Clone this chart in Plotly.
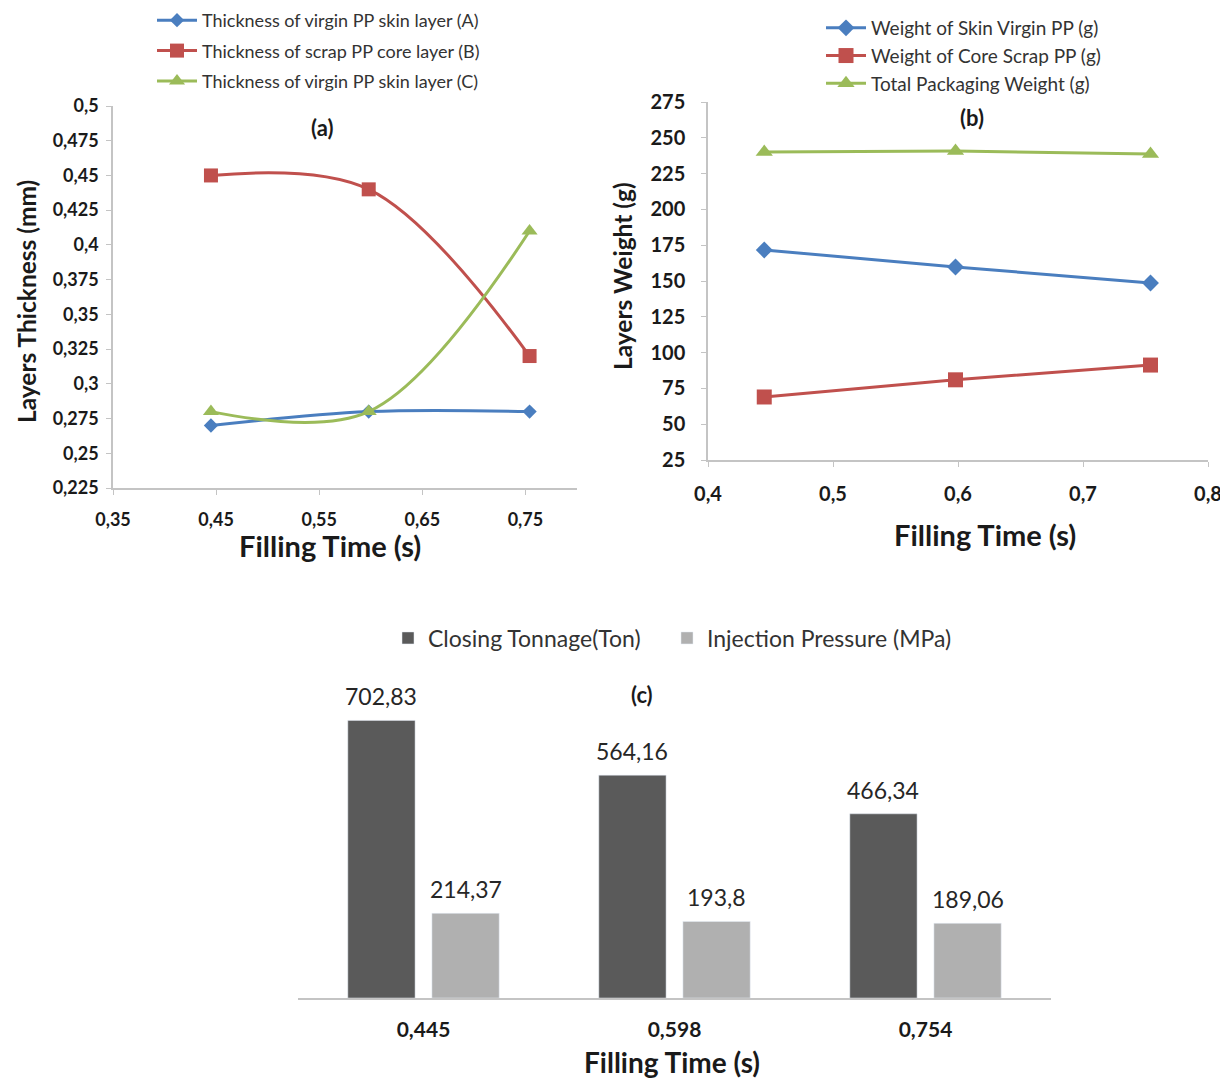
import plotly.graph_objects as go

# ---------------- data ----------------
fill_time = [0.445, 0.598, 0.754]

# (a) layer thickness (mm)
thick_skin_A = [0.27, 0.28, 0.28]
thick_core_B = [0.45, 0.44, 0.32]
thick_skin_C = [0.28, 0.28, 0.41]
names_a = ["Thickness of virgin PP skin layer (A)",
           "Thickness of scrap PP core layer (B)",
           "Thickness of virgin PP skin layer (C)"]

# (b) layer weight (g)
weight_skin = [171.7, 159.8, 148.6]
weight_core = [69.0, 81.0, 91.3]
weight_total = [240.0, 240.8, 238.7]
names_b = ["Weight of Skin Virgin PP (g)",
           "Weight of Core Scrap PP (g)",
           "Total Packaging Weight (g)"]

# (c) bar chart
categories_c = ["0,445", "0,598", "0,754"]
closing_tonnage = [702.83, 564.16, 466.34]
injection_pressure = [214.37, 193.8, 189.06]
labels_tonnage = ["702,83", "564,16", "466,34"]
labels_pressure = ["214,37", "193,8", "189,06"]
names_c = ["Closing Tonnage(Ton)", "Injection Pressure (MPa)"]

BLUE = "#4a7ebf"
RED = "#c0504d"
GREEN = "#9bbb59"
DARK = "#5a5a5a"
LIGHT = "#b0b0b0"
AXIS = "#c4c4c4"
FONT = "Lato"

# page offset (browser body margin); figure fills the rest of the window
OFF = 8
W, H = 1228 - OFF, 1080 - OFF

fig = go.Figure()

# ---------------- (a) ----------------
series_a = [(thick_skin_A, BLUE, "diamond", 11),
            (thick_core_B, RED, "square", 14),
            (thick_skin_C, GREEN, "triangle-up", 14)]
for (vals, col, sym, sz), nm in zip(series_a, names_a):
    fig.add_trace(go.Scatter(
        x=fill_time, y=vals, name=nm, mode="lines+markers",
        line=dict(color=col, width=3, shape="spline", smoothing=1),
        marker=dict(color=col, symbol=sym, size=sz),
        xaxis="x", yaxis="y", legend="legend", legendgroup=nm))

# ---------------- (b) ----------------
series_b = [(weight_skin, BLUE, "diamond", 13),
            (weight_core, RED, "square", 15),
            (weight_total, GREEN, "triangle-up", 15)]
for (vals, col, sym, sz), nm in zip(series_b, names_b):
    fig.add_trace(go.Scatter(
        x=fill_time, y=vals, name=nm, mode="lines+markers",
        line=dict(color=col, width=3),
        marker=dict(color=col, symbol=sym, size=sz),
        xaxis="x2", yaxis="y2", legend="legend2", legendgroup=nm))

# ---------------- (c) ----------------
fig.add_trace(go.Bar(
    x=categories_c, y=closing_tonnage, name=names_c[0], marker_color=DARK,
    xaxis="x3", yaxis="y3", legend="legend3"))
fig.add_trace(go.Bar(
    x=categories_c, y=injection_pressure, name=names_c[1], marker_color=LIGHT,
    xaxis="x3", yaxis="y3", legend="legend4"))

BARGAP = 0.33
BARGROUPGAP = 0.2


def px_x(p):
    return (p - OFF) / W


def px_y(p):
    return 1 - (p - OFF) / H


X3_DOMAIN = [px_x(298), px_x(1051)]

tickfont_a = dict(family=FONT, size=18, color="#1a1a1a", weight="bold")
tickfont_b = dict(family=FONT, size=20, color="#1a1a1a", weight="bold")
axis_common = dict(showgrid=False, zeroline=False, showline=True, linecolor=AXIS,
                   linewidth=1.5, ticks="outside", tickcolor=AXIS, ticklen=5,
                   ticklabeloverflow="allow")

fig.update_layout(
    width=W, height=H, margin=dict(l=0, r=0, t=0, b=0, autoexpand=False),
    paper_bgcolor="white", plot_bgcolor="white",
    separators=",.", font=dict(family=FONT, color="#262626"),
    barmode="group", bargap=BARGAP, bargroupgap=BARGROUPGAP,
    xaxis=dict(domain=[px_x(113), px_x(577)], range=[0.35, 0.80],
               tickvals=[0.35, 0.45, 0.55, 0.65, 0.75], tickfont=tickfont_a,
               ticklabelstandoff=10, anchor="y", **axis_common),
    yaxis=dict(domain=[px_y(488), px_y(106)], range=[0.225, 0.5],
               tick0=0.225, dtick=0.025, tickfont=tickfont_a, anchor="x",
               ticklabelstandoff=4, **axis_common),
    xaxis2=dict(domain=[px_x(708), px_x(1208)], range=[0.4, 0.8],
                dtick=0.1, tick0=0.4, tickfont=tickfont_b, anchor="y2",
                ticklabelstandoff=10, **axis_common),
    yaxis2=dict(domain=[px_y(460), px_y(102)], range=[25, 275],
                dtick=25, tick0=25, tickfont=tickfont_b, anchor="x2",
                ticklabelstandoff=12, **axis_common),
    xaxis3=dict(domain=X3_DOMAIN, showgrid=False, zeroline=False,
                showline=True, linecolor=AXIS, linewidth=1.5, ticks="",
                tickfont=dict(family=FONT, size=21, color="#1a1a1a", weight="bold"),
                ticklabelstandoff=12, anchor="y3"),
    yaxis3=dict(domain=[px_y(998), px_y(682)], range=[0, 800], visible=False,
                anchor="x3"),
    legend=dict(x=px_x(152), y=px_y(2), xanchor="left", yanchor="top",
                font=dict(family=FONT, size=18, color="#333333"),
                bgcolor="rgba(0,0,0,0)", tracegroupgap=4, itemwidth=40),
    legend2=dict(x=px_x(821), y=px_y(9), xanchor="left", yanchor="top",
                 font=dict(family=FONT, size=19, color="#333333"),
                 bgcolor="rgba(0,0,0,0)", tracegroupgap=0, itemwidth=40),
    legend3=dict(x=px_x(388), y=px_y(638), xanchor="left", yanchor="middle",
                 orientation="h",
                 font=dict(family=FONT, size=23, color="#333333"),
                 bgcolor="rgba(0,0,0,0)"),
    legend4=dict(x=px_x(667), y=px_y(638), xanchor="left", yanchor="middle",
                 orientation="h",
                 font=dict(family=FONT, size=23, color="#333333"),
                 bgcolor="rgba(0,0,0,0)"),
)

ann = []


def add_text(txt, x, y, size, bold=True, angle=0):
    ann.append(dict(text=txt, x=px_x(x), y=px_y(y), xref="paper", yref="paper",
                    showarrow=False, xanchor="center", yanchor="middle",
                    textangle=angle,
                    font=dict(family=FONT, size=size, color="#1a1a1a",
                              weight="bold" if bold else "normal")))


add_text("(a)", 322, 128, 22)
add_text("(b)", 972, 117, 22)
add_text("(c)", 642, 694, 22)
add_text("Filling Time (s)", 330, 545, 29)
add_text("Filling Time (s)", 985, 534, 29)
add_text("Filling Time (s)", 672, 1062, 28)
add_text("Layers Thickness (mm)", 26, 302, 24.5, angle=-90)
add_text("Layers Weight (g)", 622, 276, 24.5, angle=-90)

# value labels above bars (positioned on the bar axis, shifted to each bar slot)
n_series = 2
cat_px = (X3_DOMAIN[1] - X3_DOMAIN[0]) * W / len(categories_c)
slot_px = cat_px * (1 - BARGAP) / n_series
for s, (vals, labs) in enumerate([(closing_tonnage, labels_tonnage),
                                  (injection_pressure, labels_pressure)]):
    shift = (s - (n_series - 1) / 2) * slot_px
    for c, v, t in zip(categories_c, vals, labs):
        ann.append(dict(text=t, x=c, y=v, xref="x3", yref="y3", showarrow=False,
                        xanchor="center", yanchor="middle", xshift=shift, yshift=24,
                        font=dict(family=FONT, size=23, color="#262626")))

fig.update_layout(annotations=ann)

fig.write_html("out.html")
